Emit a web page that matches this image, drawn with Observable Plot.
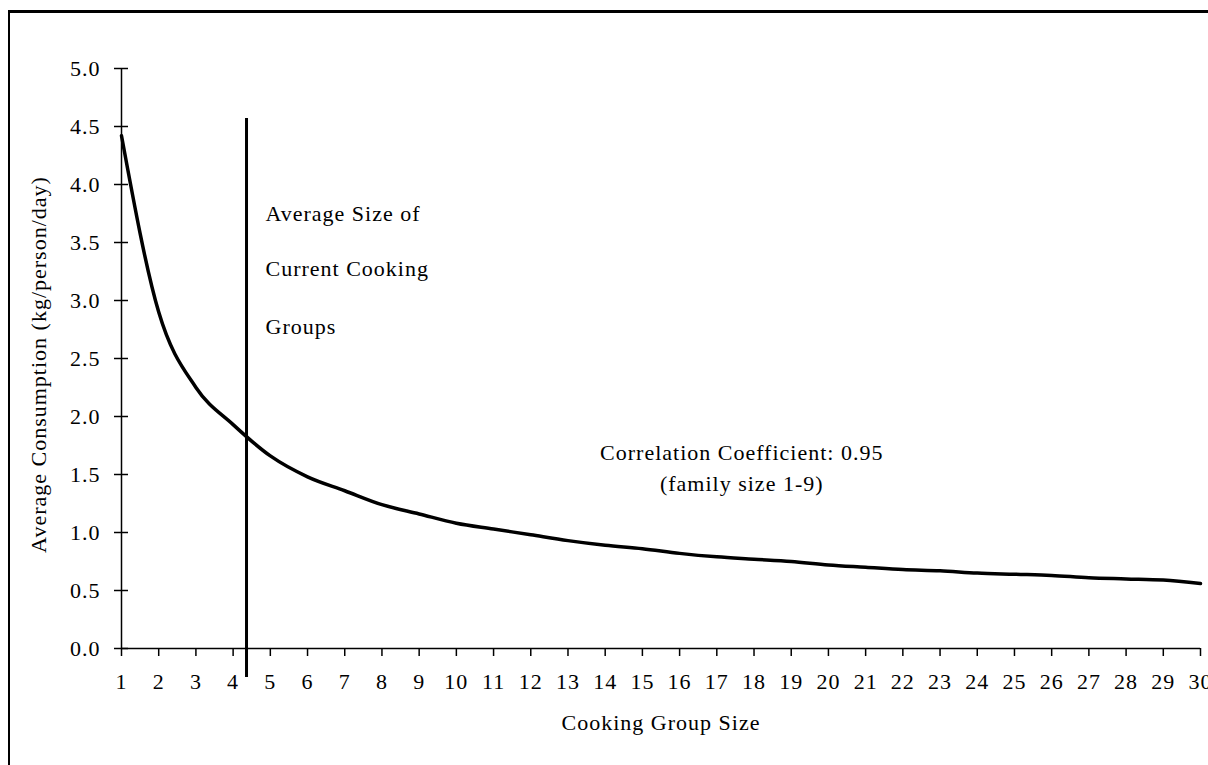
<!DOCTYPE html>
<html>
<head>
<meta charset="utf-8">
<script src="https://cdn.jsdelivr.net/npm/d3@7"></script>
<script src="https://cdn.jsdelivr.net/npm/@observablehq/plot@0.6"></script>
<style>
  html, body { margin: 0; padding: 0; background: #fff; overflow: hidden; }
  #frame { position: absolute; left: 8px; top: 10px; width: 1400px; height: 900px;
           border-left: 2px solid #000; border-top: 3px solid #000; box-sizing: border-box; }
  #chart { position: absolute; left: 0; top: 0; }
  #chart svg text { letter-spacing: 1px; }
</style>
</head>
<body>
<div id="frame"></div>
<div id="chart"></div>
<script>
// Data
const groupSize = [1,2,3,4,5,6,7,8,9,10,11,12,13,14,15,16,17,18,19,20,21,22,23,24,25,26,27,28,29,30];
const consumption = [4.42,2.90,2.25,1.93,1.66,1.48,1.36,1.24,1.16,1.08,1.03,0.98,0.93,0.89,0.86,0.82,0.79,0.77,0.75,0.72,0.70,0.68,0.67,0.65,0.64,0.63,0.61,0.60,0.59,0.56];
const xTicks = [1,2,3,4,5,6,7,8,9,10,11,12,13,14,15,16,17,18,19,20,21,22,23,24,25,26,27,28,29,30];
const yTicks = [0,0.5,1,1.5,2,2.5,3,3.5,4,4.5,5];
const avgCookingGroupSize = [4.36];
const avgLabelLines = ["Average Size of", "Current Cooking", "Groups"];
const corrLabelLines = ["Correlation Coefficient: 0.95", "(family size 1-9)"];
const xTitle = "Cooking Group Size";
const yTitle = "Average Consumption (kg/person/day)";

const data = groupSize.map((g, i) => ({g, c: consumption[i]}));
const avgLabels = avgLabelLines.map((t, i) => ({t, y: [3.75, 3.27, 2.77][i]}));
const corrLabels = corrLabelLines.map((t, i) => ({t, y: [1.69, 1.42][i]}));

const font = "'Liberation Serif', 'Times New Roman', serif";
const FS = 22;
const chart = Plot.plot({
  width: 1208,
  height: 765,
  marginLeft: 121,
  marginRight: 8,
  marginTop: 68,
  marginBottom: 117,
  style: {fontFamily: font, fontSize: FS + "px", color: "#000", background: "transparent", overflow: "visible"},
  x: {domain: [1, 30]},
  y: {domain: [0, 5]},
  marks: [
    Plot.axisX({ticks: xTicks, tickSize: 8, tickPadding: 17, tickFormat: d3.format("d"), fontSize: FS, label: null, strokeWidth: 1.5}),
    Plot.axisY({ticks: yTicks, tickSize: 0, tickPadding: 21, tickFormat: d3.format(".1f"), fontSize: FS, label: null}),
    Plot.ruleY(yTicks, {y: d => d, x1: 1 - 7/37.2, x2: 1 + 7/37.2, strokeWidth: 1.5}),
    Plot.ruleX([1], {strokeWidth: 1.5}),
    Plot.ruleY([0], {strokeWidth: 1.5}),
    Plot.line(data, {x: "g", y: "c", stroke: "#000", strokeWidth: 3.5, curve: "monotone-x"}),
    Plot.ruleX(avgCookingGroupSize, {x: d => d, y1: 4.57, y2: -0.25, stroke: "#000", strokeWidth: 3}),
    Plot.text(avgLabels, {x: 4.87, y: "y", text: "t", textAnchor: "start", fontSize: FS}),
    Plot.text(corrLabels, {x: 17.67, y: "y", text: "t", textAnchor: "middle", fontSize: FS}),
    Plot.text([xTitle], {frameAnchor: "bottom", lineAnchor: "middle", dy: 74, text: d => d, fontSize: FS}),
    Plot.text([yTitle], {frameAnchor: "left", textAnchor: "middle", lineAnchor: "middle", dx: -83, dy: 6, rotate: -90, text: d => d, fontSize: FS})
  ]
});
document.getElementById("chart").appendChild(chart);
</script>
</body>
</html>
